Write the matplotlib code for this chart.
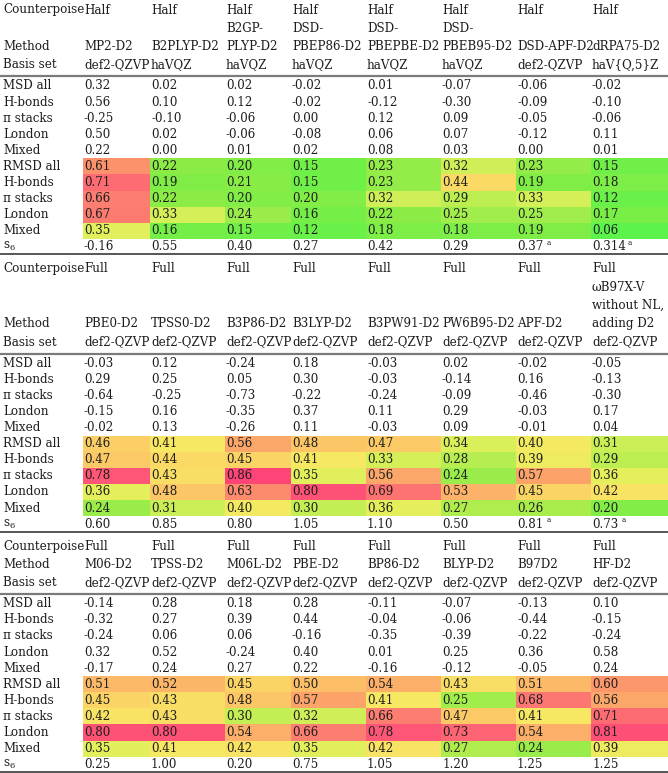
import matplotlib
matplotlib.use('Agg')
import matplotlib.pyplot as plt
from matplotlib.colors import LinearSegmentedColormap, Normalize
from matplotlib.patches import Rectangle

plt.rcParams['font.family'] = ['DejaVu Serif']
plt.rcParams['mathtext.fontset'] = 'dejavuserif'

# row labels shared by all three blocks
msd_labels = ['MSD all', 'H-bonds', 'π stacks', 'London', 'Mixed']
rmsd_labels = ['RMSD all', 'H-bonds', 'π stacks', 'London', 'Mixed']

# block 1 - half counterpoise
b1_cp = ['Half'] * 8
b1_methods = ['MP2-D2', 'B2PLYP-D2', 'B2GP-\nPLYP-D2', 'DSD-\nPBEP86-D2',
              'DSD-\nPBEPBE-D2', 'DSD-\nPBEB95-D2', 'DSD-APF-D2', 'dRPA75-D2']
b1_basis = ['def2-QZVP', 'haVQZ', 'haVQZ', 'haVQZ', 'haVQZ', 'haVQZ',
            'def2-QZVP', 'haV{Q,5}Z']
b1_msd = [
    [0.32, 0.02, 0.02, -0.02, 0.01, -0.07, -0.06, -0.02],
    [0.56, 0.10, 0.12, -0.02, -0.12, -0.30, -0.09, -0.10],
    [-0.25, -0.10, -0.06, 0.00, 0.12, 0.09, -0.05, -0.06],
    [0.50, 0.02, -0.06, -0.08, 0.06, 0.07, -0.12, 0.11],
    [0.22, 0.00, 0.01, 0.02, 0.08, 0.03, 0.00, 0.01],
]
b1_rmsd = [
    [0.61, 0.22, 0.20, 0.15, 0.23, 0.32, 0.23, 0.15],
    [0.71, 0.19, 0.21, 0.15, 0.23, 0.44, 0.19, 0.18],
    [0.66, 0.22, 0.20, 0.20, 0.32, 0.29, 0.33, 0.12],
    [0.67, 0.33, 0.24, 0.16, 0.22, 0.25, 0.25, 0.17],
    [0.35, 0.16, 0.15, 0.12, 0.18, 0.18, 0.19, 0.06],
]
b1_s6 = ['-0.16', '0.55', '0.40', '0.27', '0.42', '0.29', '0.37', '0.314']
b1_s6_note = [False] * 6 + [True, True]

# block 2 - full counterpoise, hybrids
b2_cp = ['Full'] * 8
b2_methods = ['PBE0-D2', 'TPSS0-D2', 'B3P86-D2', 'B3LYP-D2', 'B3PW91-D2',
              'PW6B95-D2', 'APF-D2', 'ωB97X-V\nwithout NL,\nadding D2']
b2_basis = ['def2-QZVP'] * 8
b2_msd = [
    [-0.03, 0.12, -0.24, 0.18, -0.03, 0.02, -0.02, -0.05],
    [0.29, 0.25, 0.05, 0.30, -0.03, -0.14, 0.16, -0.13],
    [-0.64, -0.25, -0.73, -0.22, -0.24, -0.09, -0.46, -0.30],
    [-0.15, 0.16, -0.35, 0.37, 0.11, 0.29, -0.03, 0.17],
    [-0.02, 0.13, -0.26, 0.11, -0.03, 0.09, -0.01, 0.04],
]
b2_rmsd = [
    [0.46, 0.41, 0.56, 0.48, 0.47, 0.34, 0.40, 0.31],
    [0.47, 0.44, 0.45, 0.41, 0.33, 0.28, 0.39, 0.29],
    [0.78, 0.43, 0.86, 0.35, 0.56, 0.24, 0.57, 0.36],
    [0.36, 0.48, 0.63, 0.80, 0.69, 0.53, 0.45, 0.42],
    [0.24, 0.31, 0.40, 0.30, 0.36, 0.27, 0.26, 0.20],
]
b2_s6 = ['0.60', '0.85', '0.80', '1.05', '1.10', '0.50', '0.81', '0.73']
b2_s6_note = [False] * 6 + [True, True]

# block 3 - full counterpoise, the rest
b3_cp = ['Full'] * 8
b3_methods = ['M06-D2', 'TPSS-D2', 'M06L-D2', 'PBE-D2', 'BP86-D2',
              'BLYP-D2', 'B97D2', 'HF-D2']
b3_basis = ['def2-QZVP'] * 8
b3_msd = [
    [-0.14, 0.28, 0.18, 0.28, -0.11, -0.07, -0.13, 0.10],
    [-0.32, 0.27, 0.39, 0.44, -0.04, -0.06, -0.44, -0.15],
    [-0.24, 0.06, 0.06, -0.16, -0.35, -0.39, -0.22, -0.24],
    [0.32, 0.52, -0.24, 0.40, 0.01, 0.25, 0.36, 0.58],
    [-0.17, 0.24, 0.27, 0.22, -0.16, -0.12, -0.05, 0.24],
]
b3_rmsd = [
    [0.51, 0.52, 0.45, 0.50, 0.54, 0.43, 0.51, 0.60],
    [0.45, 0.43, 0.48, 0.57, 0.41, 0.25, 0.68, 0.56],
    [0.42, 0.43, 0.30, 0.32, 0.66, 0.47, 0.41, 0.71],
    [0.80, 0.80, 0.54, 0.66, 0.78, 0.73, 0.54, 0.81],
    [0.35, 0.41, 0.42, 0.35, 0.42, 0.27, 0.24, 0.39],
]
b3_s6 = ['0.25', '1.00', '0.20', '0.75', '1.05', '1.20', '1.25', '1.25']
b3_s6_note = [False] * 8

blocks = [
    (b1_cp, b1_methods, b1_basis, b1_msd, b1_rmsd, b1_s6, b1_s6_note),
    (b2_cp, b2_methods, b2_basis, b2_msd, b2_rmsd, b2_s6, b2_s6_note),
    (b3_cp, b3_methods, b3_basis, b3_msd, b3_rmsd, b3_s6, b3_s6_note),
]

# green -> yellow -> red scale used for the RMSD cells
cmap = LinearSegmentedColormap.from_list('rmsd', [
    (0.00, '#5cf44c'), (0.11, '#70ef48'), (0.20, '#8cec46'),
    (0.30, '#c4ee54'), (0.37, '#e4ef5c'), (0.44, '#f7e864'),
    (0.49, '#fbd266'), (0.56, '#fcbb68'), (0.63, '#fca66a'),
    (0.69, '#fc926c'), (0.76, '#fc7c70'), (0.83, '#fd6674'),
    (0.91, '#fe5476'), (1.00, '#ff4578'),
])
norm = Normalize(vmin=0.06, vmax=0.86)

W, H = 668, 773
fig = plt.figure(figsize=(W / 100, H / 100), dpi=100)
ax = fig.add_axes([0, 0, 1, 1])
ax.set_xlim(0, W)
ax.set_ylim(H, 0)
ax.axis('off')

col_x = [83, 150, 225, 291, 366, 441, 516, 591, 668]
label_x = 3
fs = 8.6
txt_col = '#1e1e1e'
hp = 18.3   # header line pitch
dp = 16.1   # data row pitch


def put(x, y, s, **kw):
    ax.text(x, y, s, fontsize=fs, color=txt_col, va='center', ha='left', **kw)


y = 10
for cp, methods, basis, msd, rmsd, s6, s6_note in blocks:
    n_meth = max(m.count('\n') + 1 for m in methods)
    put(label_x, y, 'Counterpoise')
    for j, c in enumerate(cp):
        put(col_x[j] + 1, y, c)
    y_meth = y + n_meth * hp
    put(label_x, y_meth, 'Method')
    for j, m in enumerate(methods):
        lines = m.split('\n')
        for k, line in enumerate(reversed(lines)):
            put(col_x[j] + 1, y_meth - k * hp, line)
    y_basis = y_meth + hp
    put(label_x, y_basis, 'Basis set')
    for j, b in enumerate(basis):
        put(col_x[j] + 1, y_basis, b)

    rule_y = y_basis + 11.5
    ax.plot([0, W], [rule_y, rule_y], color='#7a7a7a', lw=1.6,
            solid_capstyle='butt')

    y_row = y_basis + 21
    for i, lab in enumerate(msd_labels):
        put(label_x, y_row, lab)
        for j, v in enumerate(msd[i]):
            put(col_x[j] + 1, y_row, f'{v:.2f}')
        y_row += dp
    for i, lab in enumerate(rmsd_labels):
        put(label_x, y_row, lab)
        for j, v in enumerate(rmsd[i]):
            ax.add_patch(Rectangle((col_x[j], y_row - dp / 2),
                                   col_x[j + 1] - col_x[j], dp,
                                   facecolor=cmap(norm(v)), edgecolor='none'))
            put(col_x[j] + 1, y_row, f'{v:.2f}')
        y_row += dp
    put(label_x, y_row, r'$\mathregular{s_6}$')
    for j, v in enumerate(s6):
        put(col_x[j] + 1, y_row, v)
        if s6_note[j]:
            ax.text(col_x[j] + 4 + 6.6 * len(v), y_row - 4, 'a',
                    fontsize=5, color=txt_col, va='center', ha='left')
    bot_y = y_row + 7.5
    ax.plot([0, W], [bot_y, bot_y], color='#3a3a3a', lw=1.2,
            solid_capstyle='butt')
    y = y_row + 22

fig.savefig('out.png', dpi=100)
